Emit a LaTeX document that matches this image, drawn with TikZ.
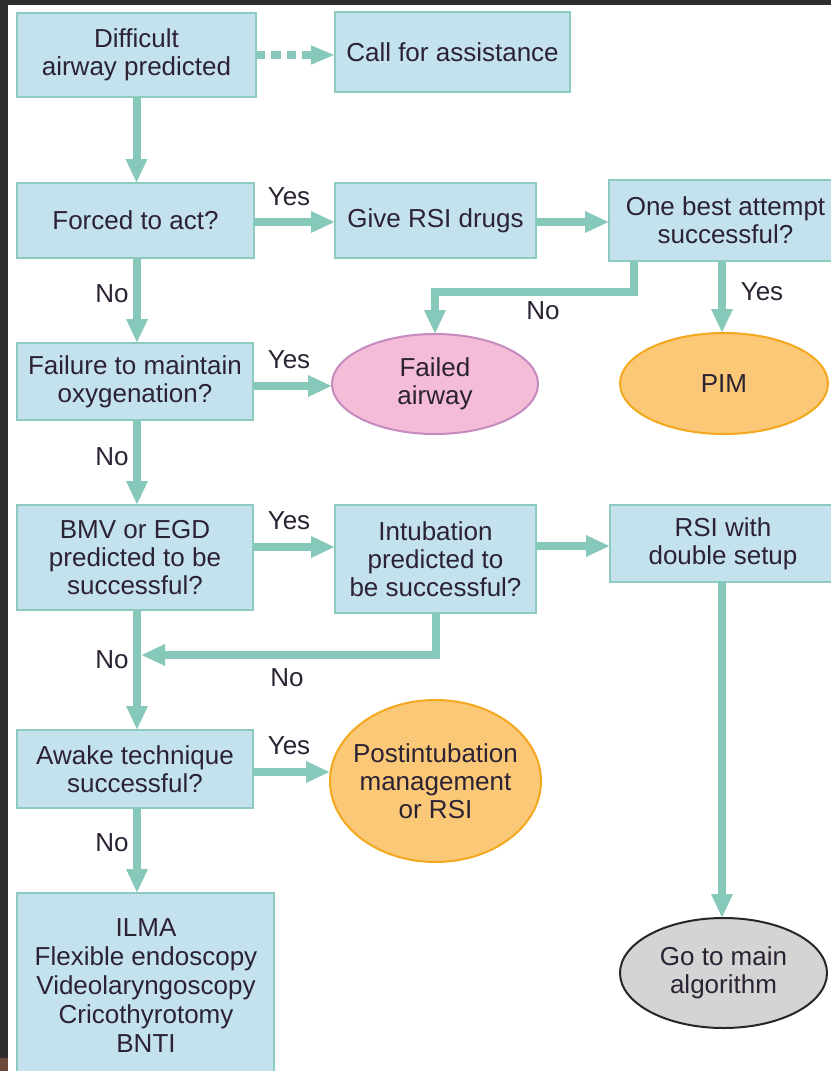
\documentclass[tikz,border=0pt]{standalone}
\usepackage{fontspec}
\setmainfont{Liberation Sans}
\usetikzlibrary{arrows.meta,shapes.geometric,calc}
\definecolor{bgdark}{HTML}{2E2E2E}
\definecolor{bgbrown}{HTML}{6B4A3A}
\definecolor{boxfill}{HTML}{C4E1EE}
\definecolor{boxline}{HTML}{8DCBC0}
\definecolor{arrcol}{HTML}{86C9BB}
\definecolor{txt}{HTML}{2B2233}
\definecolor{pinkfill}{HTML}{F5BCD8}
\definecolor{pinkline}{HTML}{C58BBE}
\definecolor{orfill}{HTML}{FBC877}
\definecolor{orline}{HTML}{F3A81E}
\definecolor{grayfill}{HTML}{D4D4D4}
\newcommand{\boxnode}[6]{\node[box, minimum width={(#4-#2)*0.75pt}, minimum height={(#5-#3)*0.75pt}] (#1) at ({(#2+#4)/2},{(#3+#5)/2}) {#6};}
\newcommand{\ellnode}[7]{\node[ell, #7, minimum width={(#4-#2)*0.75pt}, minimum height={(#5-#3)*0.75pt}] (#1) at ({(#2+#4)/2},{(#3+#5)/2}) {};
  \node[align=center, inner sep=0pt] (#1-t) at (#1.center) {#6};}
\begin{document}
\begin{tikzpicture}[x=0.75pt,y=-0.75pt,
  every node/.style={text=txt, font=\fontsize{19.5}{21}\selectfont},
  box/.style={draw=boxline, fill=boxfill, line width=1.5pt, inner sep=0pt, outer sep=0pt, align=center},
  ell/.style={ellipse, line width=1.5pt, inner sep=0pt, outer sep=0pt},
  arr/.style={draw=arrcol, line width=6pt, -{Triangle[length=18pt,width=15pt]}},
  dasharr/.style={draw=arrcol, line width=6pt, dash pattern=on 7pt off 4.5pt, -{Triangle[length=18pt,width=13pt]}},
  lbl/.style={inner sep=0pt}]
\useasboundingbox (0,0) rectangle (831,1071);
\clip (0,0) rectangle (831,1071);
\fill[bgdark] (0,0) rectangle (831,1071);
\fill[white] (8,5) rectangle (831,1071);
\fill[bgbrown] (0,1058) rectangle (8,1071);

\boxnode{dap}{17}{13}{256}{97}{Difficult\\airway predicted}
\boxnode{call}{335}{12}{570}{92}{Call for assistance}
\boxnode{forced}{17}{183}{254}{258}{Forced to act?}
\boxnode{give}{335}{183}{536}{258}{Give RSI drugs}
\boxnode{one}{609}{180}{842}{261}{One best attempt\\successful?}
\boxnode{fail}{17}{343}{253}{420}{Failure to maintain\\oxygenation?}
\ellnode{failed}{332}{334}{538}{434}{Failed\\airway}{draw=pinkline, fill=pinkfill}
\ellnode{pim}{620}{333}{828}{434}{PIM}{draw=orline, fill=orfill}
\boxnode{bmv}{17}{505}{253}{610}{BMV or EGD\\predicted to be\\successful?}
\boxnode{intub}{335}{505}{536}{613}{Intubation\\predicted to\\be successful?}
\boxnode{rsi}{610}{505}{836}{582}{RSI with\\double setup}
\boxnode{awake}{17}{730}{253}{808}{Awake technique\\successful?}
\ellnode{post}{330}{700}{541}{862}{Postintubation\\management\\or RSI}{draw=orline, fill=orfill}
\ellnode{goto}{620}{918}{827}{1028}{Go to main\\algorithm}{draw=black!85, fill=grayfill}
\node[box, minimum width={257*0.75pt}, minimum height={190*0.75pt}, anchor=north west] (final) at (17,893) {};
\node[align=center, anchor=north, inner sep=0pt] (finaltxt) at (146,918) {ILMA\\[0.9pt]Flexible endoscopy\\[0.9pt]Videolaryngoscopy\\[0.9pt]Cricothyrotomy\\[0.9pt]BNTI};

\draw[dasharr] (dap.east) -- (dap.east -| call.west);
\draw[arr] (dap.south) -- (dap.south |- forced.north);
\draw[arr] (forced.east |- 0,222) -- (give.west |- 0,222);
\draw[arr] (give.east |- 0,222) -- (one.west |- 0,222);
\draw[arr] (722,261) -- (pim.north -| 722,0);
\coordinate (n1) at (634,292);
\draw[arr] (one.south -| n1) -- (n1) -| (failed.north);
\draw[arr] (forced.south -| 137,0) -- (fail.north -| 137,0);
\draw[arr] (fail.east |- 0,386) -- (332,386);
\draw[arr] (fail.south -| 137,0) -- (bmv.north -| 137,0);
\draw[arr] (bmv.east |- 0,547) -- (intub.west |- 0,547);
\draw[arr] (intub.east |- 0,546) -- (rsi.west |- 0,546);
\draw[arr] (rsi.south -| 722,0) -- (goto.north -| 722,0);
\coordinate (j) at (141,655);
\draw[arr] (intub.south) |- (j);
\draw[arr] (bmv.south -| 137,0) -- (awake.north -| 137,0);
\draw[arr] (awake.east |- 0,772) -- (330,772);
\draw[arr] (awake.south -| 137,0) -- (final.north -| 137,0);

\node[lbl] (y1) at (289,197) {Yes};
\node[lbl] (y2) at (762,292) {Yes};
\node[lbl] (no1) at (543,311) {No};
\node[lbl] (no2) at (112,294) {No};
\node[lbl] (y3) at (289,360) {Yes};
\node[lbl] (no3) at (112,457) {No};
\node[lbl] (y4) at (289,521) {Yes};
\node[lbl] (no4) at (112,660) {No};
\node[lbl] (no5) at (287,678) {No};
\node[lbl] (y5) at (289,746) {Yes};
\node[lbl] (no6) at (112,843) {No};
\end{tikzpicture}
\end{document}
